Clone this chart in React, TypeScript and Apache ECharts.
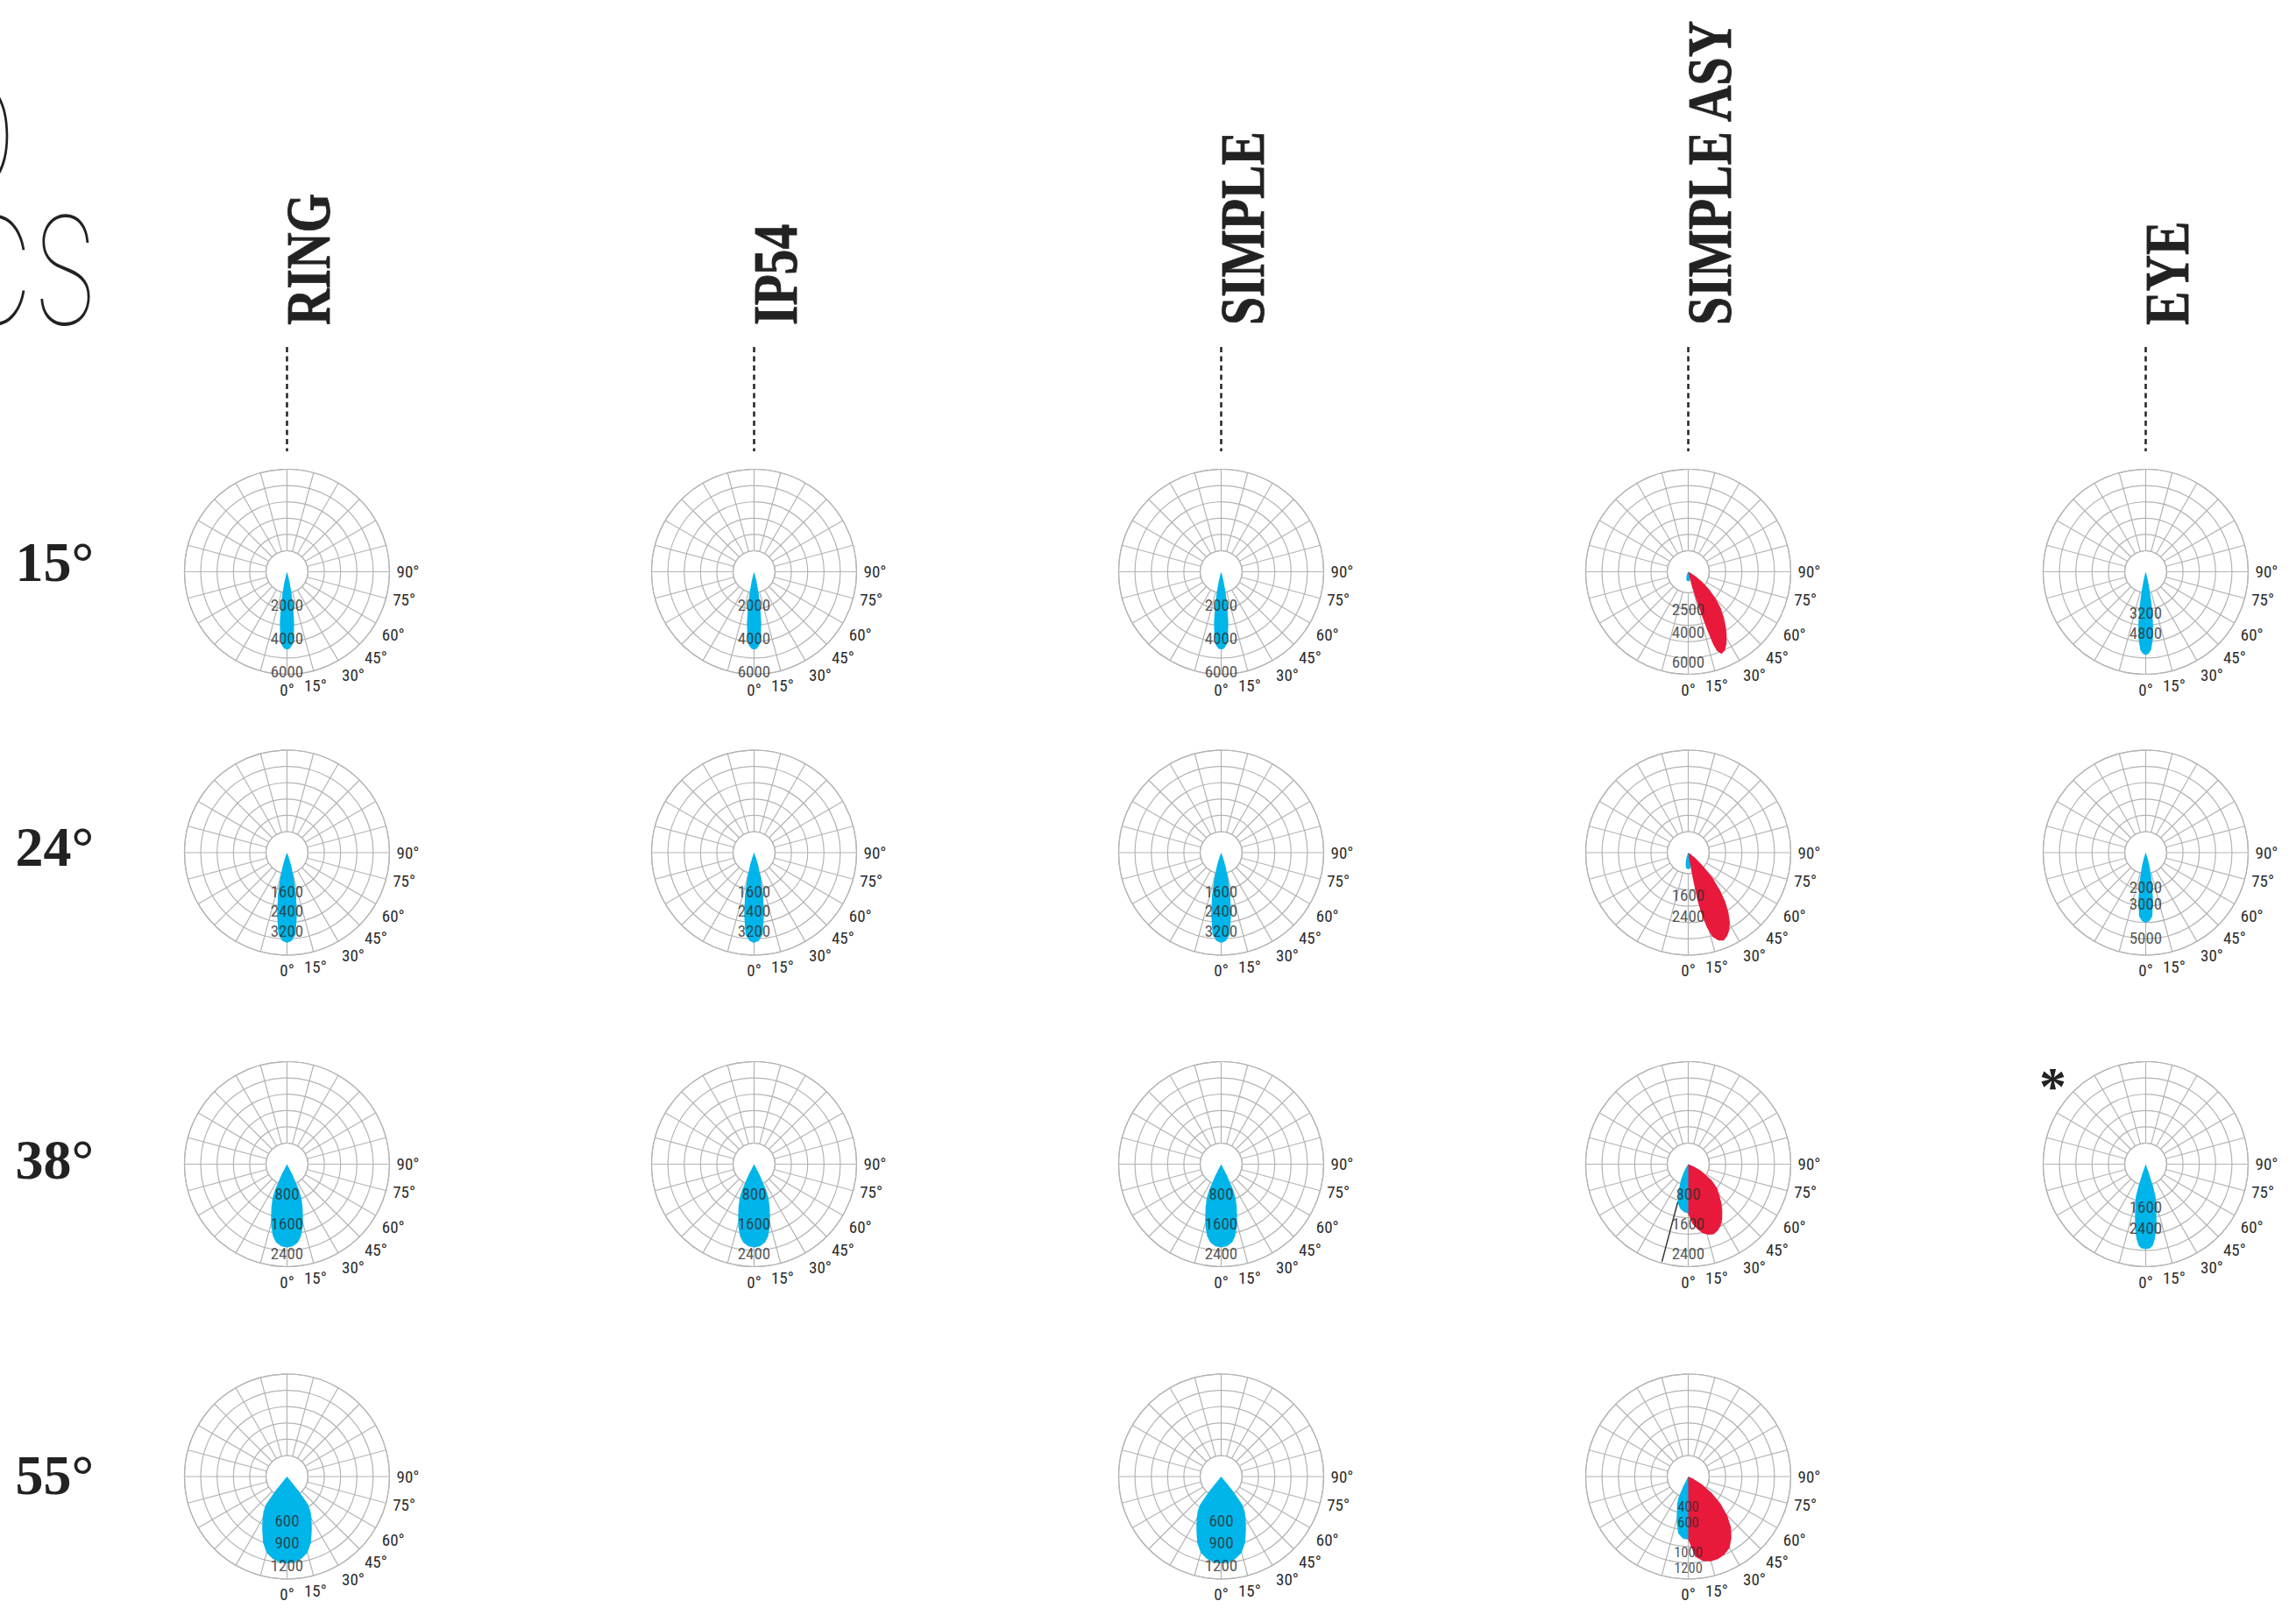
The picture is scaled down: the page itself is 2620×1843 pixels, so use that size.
import React, { useEffect, useRef } from "react";
import * as echarts from "echarts";

// ---------- text content ----------
const columns = ["RING", "IP54", "SIMPLE", "SIMPLE ASY", "EYE"];
const rowLabels = ["15°", "24°", "38°", "55°"];
const angleLabelValues = [0, 15, 30, 45, 60, 75, 90];

// ---------- intensity labels along the nadir axis (cd) ----------
const labelsSpot15 = [2000, 4000, 6000];
const labelsAsy15 = [2500, 4000, 6000];
const labelsEye15 = [3200, 4800];
const labelsSpot24 = [1600, 2400, 3200];
const labelsAsy24 = [1600, 2400];
const labelsEye24 = [2000, 3000, 5000];
const labelsSpot38 = [800, 1600, 2400];
const labelsEye38 = [1600, 2400];
const labelsSpot55 = [600, 900, 1200];
const labelsAsy55 = [400, 600, 1000, 1200];

// ---------- photometric curves: [angle from nadir (deg), intensity (cd)] ----------
// symmetric beams (one half given, mirrored about 0°)
const spot15 = [[0, 4660], [2, 4610], [4, 4410], [6, 3900], [8, 3080], [10, 2100], [12, 1280], [14, 615], [16, 205], [18, 0]];
const eye15 = [[0, 6500], [2, 6400], [4, 6100], [6, 5300], [8, 4100], [10, 2750], [12, 1550], [14, 700], [16, 200], [18, 0]];
const asy15Blue = [[0, 640], [5, 630], [10, 580], [15, 490], [20, 380], [25, 230], [30, 90], [35, 0]];
const spot24 = [[0, 3700], [3, 3620], [6, 3370], [9, 2580], [12, 1800], [15, 1080], [18, 540], [21, 180], [24, 0]];
const eye24 = [[0, 4100], [3, 4020], [6, 3740], [9, 2670], [12, 1690], [15, 920], [18, 410], [21, 100], [24, 0]];
const asy24Blue = [[0, 630], [4, 620], [8, 580], [12, 480], [16, 330], [20, 170], [24, 30], [27, 0]];
const spot38 = [[0, 2230], [4, 2210], [8, 2120], [11, 1970], [14, 1740], [17, 1460], [20, 1220], [23, 990], [25, 750], [27, 350], [28, 0]];
const eye38 = [[0, 3190], [3, 3160], [5, 3060], [7, 2830], [9, 2500], [11, 2110], [13, 1780], [15, 1510], [17, 1250], [18.5, 820], [19.5, 330], [20, 0]];
const asy38Blue = [[0, 1320], [5, 1290], [10, 1220], [15, 1080], [20, 750], [25, 470], [30, 235], [35, 70], [40, 0]];
const spot55 = [[0, 1175], [5, 1165], [10, 1130], [15, 1070], [20, 950], [25, 795], [30, 665], [34, 570], [37, 475], [39, 260], [40, 0]];
const asy55Blue = [[0, 830], [5, 820], [10, 760], [14, 625], [18, 485], [22, 390], [25, 300], [27, 140], [28, 0]];

// asymmetric beams (full curve)
const asy15Red = [[10, 0], [12, 290], [14, 1050], [16, 2030], [17, 2790], [18, 4070], [19, 5110], [20, 5580], [22, 5870], [25, 5750], [28, 5400], [31, 4940], [34, 4470], [38, 3830], [42, 3200], [46, 2500], [50, 1800], [54, 1160], [58, 580], [62, 170], [65, 0]];
const asy24Red = [[7, 0], [9, 400], [10, 1000], [11, 1870], [12, 2330], [14, 2930], [16, 3330], [19, 3530], [22, 3600], [25, 3500], [28, 3330], [31, 3070], [34, 2730], [37, 2330], [40, 1900], [44, 1330], [48, 730], [52, 330], [56, 100], [58, 0]];
const asy38Red = [[0, 0], [0, 1340], [4, 1600], [8, 1760], [12, 1900], [16, 1970], [20, 2000], [24, 1950], [28, 1860], [32, 1720], [36, 1550], [40, 1390], [45, 1180], [50, 1010], [55, 780], [60, 490], [63, 350], [66, 160], [70, 0]];
const asy55Red = [[0, 0], [0, 830], [5, 1060], [10, 1130], [15, 1155], [20, 1155], [25, 1130], [30, 1085], [35, 990], [40, 875], [45, 725], [50, 555], [55, 380], [60, 210], [65, 70], [70, 0]];

// ---------- which diagram sits where: column, row, outer-ring value ----------
const cells = [
  { col: 0, row: 0, max: 6150, labels: labelsSpot15, blue: spot15 },
  { col: 1, row: 0, max: 6150, labels: labelsSpot15, blue: spot15 },
  { col: 2, row: 0, max: 6150, labels: labelsSpot15, blue: spot15 },
  { col: 3, row: 0, max: 6800, labels: labelsAsy15, blue: asy15Blue, red: asy15Red },
  { col: 4, row: 0, max: 8000, labels: labelsEye15, blue: eye15 },
  { col: 0, row: 1, max: 4200, labels: labelsSpot24, blue: spot24 },
  { col: 1, row: 1, max: 4200, labels: labelsSpot24, blue: spot24 },
  { col: 2, row: 1, max: 4200, labels: labelsSpot24, blue: spot24 },
  { col: 3, row: 1, max: 3900, labels: labelsAsy24, blue: asy24Blue, red: asy24Red },
  { col: 4, row: 1, max: 6000, labels: labelsEye24, blue: eye24 },
  { col: 0, row: 2, max: 2750, labels: labelsSpot38, blue: spot38 },
  { col: 1, row: 2, max: 2750, labels: labelsSpot38, blue: spot38 },
  { col: 2, row: 2, max: 2750, labels: labelsSpot38, blue: spot38 },
  { col: 3, row: 2, max: 2750, labels: labelsSpot38, blue: asy38Blue, red: asy38Red },
  { col: 4, row: 2, max: 3850, labels: labelsEye38, blue: eye38 },
  { col: 0, row: 3, max: 1390, labels: labelsSpot55, blue: spot55 },
  { col: 2, row: 3, max: 1390, labels: labelsSpot55, blue: spot55 },
  { col: 3, row: 3, max: 1350, labels: labelsAsy55, blue: asy55Blue, red: asy55Red, small: true },
];

// ---------- layout / style ----------
const W = 2620;
const H = 1843;
const COL_X = [327.5, 860.5, 1393.5, 1926.5, 2448.5];
const ROW_Y = [652.5, 973, 1328.5, 1685];
const R_IN = 24;
const R_OUT = 117;
const GRID = "#b4b4b4";
const BLUE = "#00b5ea";
const RED = "#e8193a";
const INK = "#222222";
const LABEL_COLOR = "#2c2c2c";
const LABEL_SIZE = 19;
const LABEL_SIZE_TIGHT = 16.5;
const SANS_NARROW = "'Liberation Sans Narrow', 'Roboto Condensed', Roboto, 'Liberation Sans', sans-serif";
const SERIF = "'Liberation Serif', 'DejaVu Serif', serif";

const mirror = (half) => [
  ...half.slice(1).reverse().map(([a, v]) => [-a, v]),
  ...half,
];

function lobeSeries(polarIndex, pts, color) {
  return {
    type: "custom",
    coordinateSystem: "polar",
    polarIndex,
    silent: true,
    z: 2,
    data: [[0, 0]],
    renderItem: (_params, api) => ({
      type: "polygon",
      shape: { points: pts.map(([a, v]) => api.coord([v, a])) },
      style: { fill: color },
    }),
  };
}

function buildOption() {
  const polar = [];
  const angleAxis = [];
  const radiusAxis = [];
  const series = [];
  const graphic = [];

  cells.forEach((c) => {
    const cx = COL_X[c.col];
    const cy = ROW_Y[c.row];
    // grid polar
    const g = polar.length;
    polar.push({ center: [cx, cy], radius: [R_IN, R_OUT] });
    angleAxis.push({
      polarIndex: g,
      type: "value",
      min: -180,
      max: 180,
      interval: 15,
      startAngle: 90,
      clockwise: false,
      axisLine: { show: true, lineStyle: { color: GRID, width: 1.2 } },
      axisTick: { show: false },
      splitLine: { show: true, lineStyle: { color: GRID, width: 1.2 } },
      axisLabel: {
        show: true,
        margin: 8,
        color: LABEL_COLOR,
        fontSize: LABEL_SIZE,
        fontFamily: SANS_NARROW,
        formatter: (v) => (angleLabelValues.indexOf(Math.round(v)) >= 0 && v >= 0 ? `${Math.round(v)}°` : ""),
      },
    });
    radiusAxis.push({
      polarIndex: g,
      type: "value",
      min: 0,
      max: 5,
      interval: 1,
      axisLine: { show: false },
      axisTick: { show: false },
      axisLabel: { show: false },
      splitLine: { show: true, lineStyle: { color: GRID, width: 1.2 } },
    });
    // data polar
    const d = polar.length;
    polar.push({ center: [cx, cy], radius: [0, R_OUT] });
    angleAxis.push({
      polarIndex: d,
      type: "value",
      min: -180,
      max: 180,
      startAngle: 90,
      clockwise: false,
      show: false,
    });
    radiusAxis.push({ polarIndex: d, type: "value", min: 0, max: c.max, show: false });

    series.push(lobeSeries(d, mirror(c.blue), BLUE));
    if (c.red) series.push(lobeSeries(d, c.red, RED));
    series.push({
      type: "scatter",
      coordinateSystem: "polar",
      polarIndex: d,
      silent: true,
      z: 5,
      symbol: "circle",
      symbolSize: 1,
      itemStyle: { color: "rgba(0,0,0,0)" },
      data: c.labels.map((v) => [v, 0]),
      label: {
        show: true,
        position: "inside",
        color: LABEL_COLOR,
        fontSize: c.small ? LABEL_SIZE_TIGHT : LABEL_SIZE,
        fontFamily: SANS_NARROW,
        formatter: (p) => String(p.value[0]),
      },
    });
  });

  // column headers + dashed leaders
  columns.forEach((name, i) => {
    const x = COL_X[i];
    graphic.push({
      type: "text",
      x: x + 24,
      y: 371,
      rotation: Math.PI / 2,
      scaleX: 0.8,
      silent: true,
      style: {
        text: name,
        fontSize: 72,
        fontWeight: "bold",
        fontFamily: SERIF,
        fill: INK,
        stroke: INK,
        lineWidth: 0.8,
        align: "left",
        textAlign: "left",
        verticalAlign: "middle",
        textVerticalAlign: "middle",
      },
    });
    graphic.push({
      type: "line",
      silent: true,
      shape: { x1: x, y1: 396, x2: x, y2: 515 },
      style: { stroke: INK, lineWidth: 2.5, lineDash: [6, 4.5] },
    });
  });

  // row labels
  const rowMid = [641, 966, 1323, 1683];
  rowLabels.forEach((t, i) => {
    graphic.push({
      type: "text",
      x: 107,
      y: rowMid[i],
      silent: true,
      style: {
        text: t,
        fontSize: 64,
        fontWeight: "bold",
        fontFamily: SERIF,
        fill: INK,
        align: "right",
        textAlign: "right",
        verticalAlign: "middle",
        textVerticalAlign: "middle",
      },
    });
  });

  // cropped title at top-left
  const titleStyle = {
    fontSize: 170,
    fontWeight: 100,
    fontFamily: "Inter, Lato, 'Open Sans', sans-serif",
    fill: INK,
    align: "right",
    textAlign: "right",
    verticalAlign: "middle",
    textVerticalAlign: "middle",
  };
  graphic.push({ type: "text", x: 18, y: 155, scaleX: 0.7, silent: true, style: { ...titleStyle, text: "LED" } });
  graphic.push({ type: "text", x: 112, y: 309, scaleX: 0.72, silent: true, style: { ...titleStyle, text: "OPTICS" } });

  // asterisk next to EYE 38°
  graphic.push({
    type: "text",
    x: COL_X[4] - 106,
    y: ROW_Y[2] - 90,
    silent: true,
    style: {
      text: "*",
      fontSize: 62,
      fontWeight: "bold",
      fontFamily: SERIF,
      fill: INK,
      align: "center",
      textAlign: "center",
      verticalAlign: "middle",
      textVerticalAlign: "middle",
    },
  });

  // thin leader line inside SIMPLE ASY 38°
  graphic.push({
    type: "line",
    silent: true,
    z: 10,
    shape: { x1: COL_X[3] - 12, y1: ROW_Y[2] + 43, x2: COL_X[3] - 30, y2: ROW_Y[2] + 111 },
    style: { stroke: "#333", lineWidth: 1.3 },
  });

  return {
    animation: false,
    backgroundColor: "#ffffff",
    polar,
    angleAxis,
    radiusAxis,
    series,
    graphic,
  };
}

export default function App() {
  const ref = useRef(null);
  useEffect(() => {
    document.body.style.margin = "0";
    document.body.style.overflow = "hidden";
    const chart = echarts.init(ref.current, null, { renderer: "svg", width: W, height: H });
    chart.setOption(buildOption());
    return () => chart.dispose();
  }, []);
  return <div ref={ref} style={{ position: "absolute", left: 0, top: 0, width: W, height: H }} />;
}
